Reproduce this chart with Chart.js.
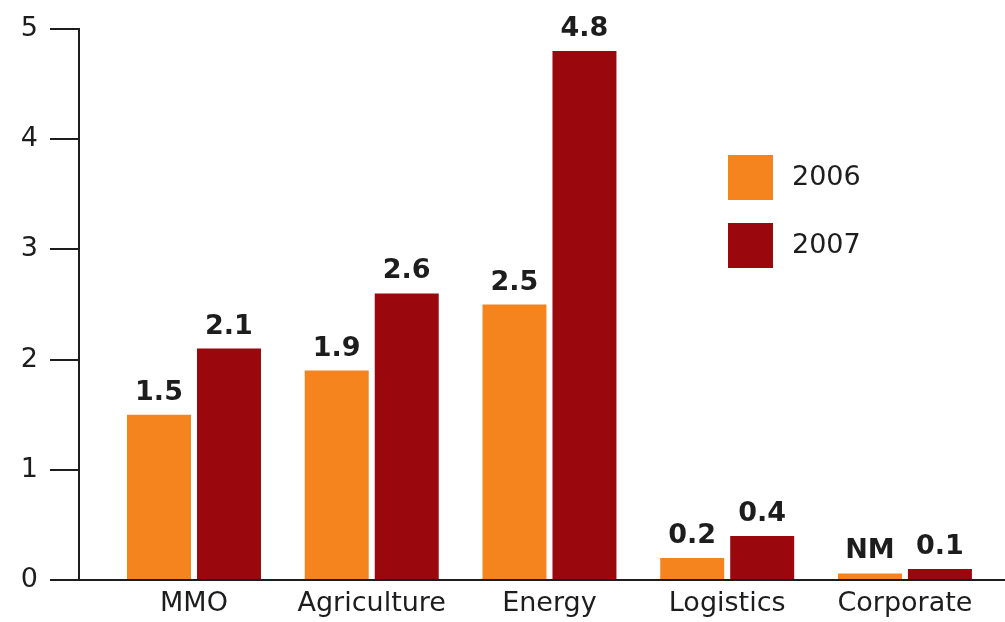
<!DOCTYPE html>
<html lang="en">
<head>
    <meta charset="UTF-8">
    <title>Segment results 2006 vs 2007</title>
    <script src="https://cdn.jsdelivr.net/npm/chart.js"></script>
    <style>
        body {
            margin: 0;
            background-color: white;
        }
        #chart-container {
            width: 1005px;
            height: 622px;
        }
    </style>
</head>
<body>
    <div id="chart-container">
        <canvas id="segment-chart"></canvas>
    </div>

    <script>
        const categories = ['MMO', 'Agriculture', 'Energy', 'Logistics', 'Corporate'];
        const values2006 = [1.5, 1.9, 2.5, 0.2, 0.06];
        const values2007 = [2.1, 2.6, 4.8, 0.4, 0.1];
        const labels2006 = ['1.5', '1.9', '2.5', '0.2', 'NM'];
        const labels2007 = ['2.1', '2.6', '4.8', '0.4', '0.1'];
        const yTicks = [0, 1, 2, 3, 4, 5];

        const ink = '#1d1d1d';
        const font = 'DejaVu Sans';

        // value labels over each bar
        const barLabels = {
            id: 'barLabels',
            afterDatasetsDraw(chart) {
                const ctx = chart.ctx;
                ctx.save();
                ctx.font = 'bold 27px "' + font + '"';
                ctx.fillStyle = ink;
                ctx.textAlign = 'center';
                ctx.textBaseline = 'alphabetic';
                chart.data.datasets.forEach((ds, i) => {
                    chart.getDatasetMeta(i).data.forEach((bar, j) => {
                        ctx.fillText(ds.valueLabels[j], bar.x, bar.y - 15);
                    });
                });
                ctx.restore();
            }
        };

        // legend boxes inside the plot
        const boxLegend = {
            id: 'boxLegend',
            afterDraw(chart) {
                const ctx = chart.ctx;
                ctx.save();
                ctx.font = '27px "' + font + '"';
                ctx.textBaseline = 'middle';
                ctx.textAlign = 'left';
                chart.data.datasets.forEach((ds, i) => {
                    const top = 155 + i * 68;
                    ctx.fillStyle = ds.backgroundColor;
                    ctx.fillRect(728, top, 45, 45);
                    ctx.fillStyle = ink;
                    ctx.fillText(ds.label, 792, top + 23);
                });
                ctx.restore();
            }
        };

        const ctx = document.getElementById('segment-chart').getContext('2d');
        new Chart(ctx, {
            type: 'bar',
            data: {
                datasets: [{
                    label: '2006',
                    data: categories.map((c, i) => ({ x: i, y: values2006[i] })),
                    valueLabels: labels2006,
                    backgroundColor: '#f5841f'
                }, {
                    label: '2007',
                    data: categories.map((c, i) => ({ x: i, y: values2007[i] })),
                    valueLabels: labels2007,
                    backgroundColor: '#9a070d'
                }]
            },
            options: {
                responsive: true,
                maintainAspectRatio: false,
                animation: false,
                categoryPercentage: 0.7876,
                barPercentage: 0.914,
                layout: {
                    padding: { top: 29, right: 0, left: 0, bottom: 0 }
                },
                plugins: {
                    legend: { display: false },
                    tooltip: { enabled: false }
                },
                scales: {
                    x: {
                        type: 'linear',
                        offset: false,
                        min: -0.647,
                        max: 4.563,
                        afterBuildTicks: scale => {
                            scale.ticks = categories.map((c, i) => ({ value: i }));
                        },
                        afterFit: scale => { scale.height = 42; },
                        grid: { display: false, drawTicks: false, offset: false },
                        border: { display: true, color: ink, width: 2 },
                        ticks: {
                            autoSkip: false,
                            maxRotation: 0,
                            padding: 8,
                            color: ink,
                            font: { family: font, size: 27 },
                            callback: value => categories[value]
                        }
                    },
                    y: {
                        min: 0,
                        max: 5,
                        afterBuildTicks: scale => {
                            scale.ticks = yTicks.map(v => ({ value: v }));
                        },
                        afterFit: scale => { scale.width = 79; },
                        grid: {
                            drawOnChartArea: false,
                            drawTicks: true,
                            tickLength: 29,
                            color: ink,
                            lineWidth: 2
                        },
                        border: { display: true, color: ink, width: 2 },
                        ticks: {
                            padding: 12,
                            color: ink,
                            font: { family: font, size: 27 }
                        }
                    }
                }
            },
            plugins: [barLabels, boxLegend]
        });
    </script>
</body>
</html>
